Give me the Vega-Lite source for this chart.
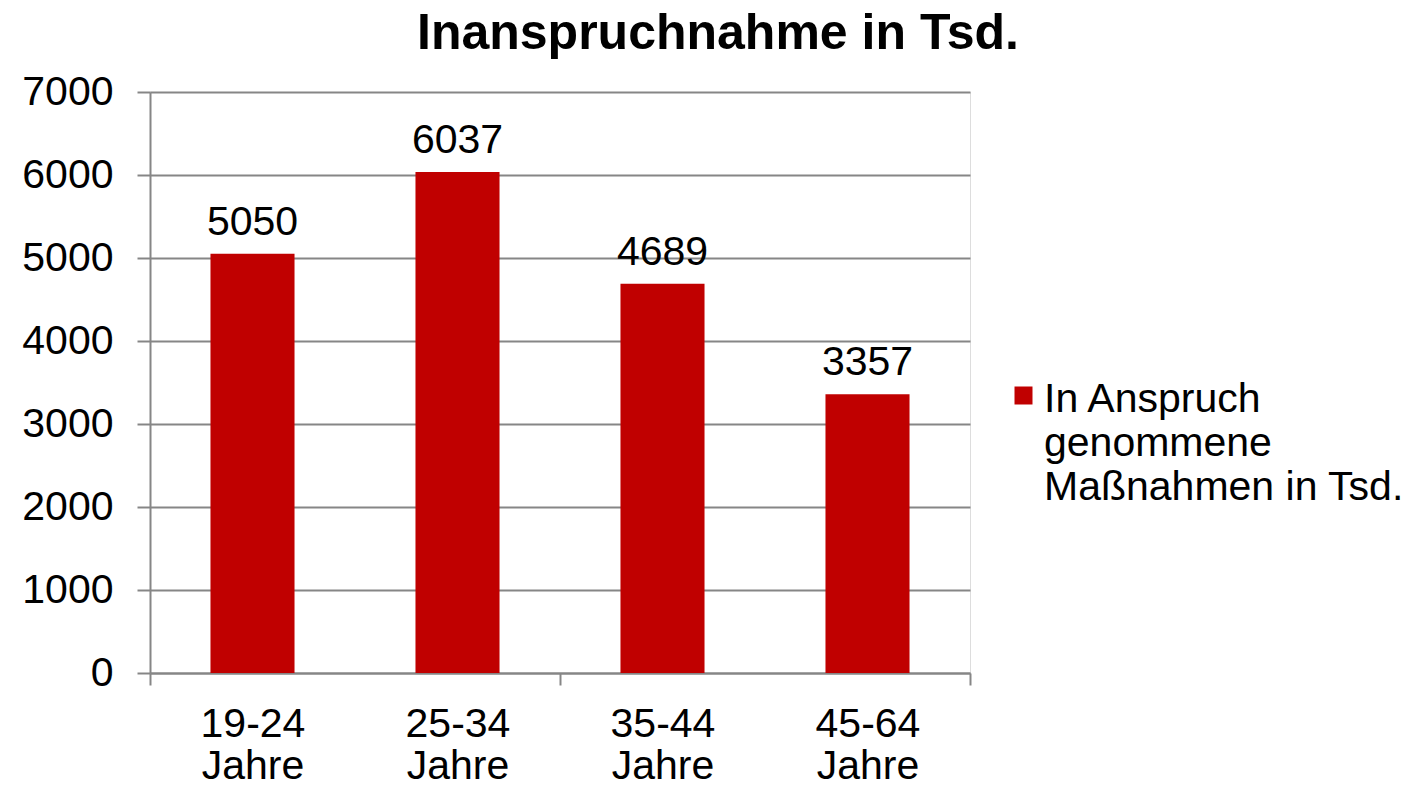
{
  "$schema": "https://vega.github.io/schema/vega-lite/v6.json",
  "width": 820,
  "height": 581,
  "autosize": "none",
  "padding": {"left": 150, "top": 92, "right": 455, "bottom": 115},
  "background": "white",
  "title": {
    "text": "Inanspruchnahme in Tsd.",
    "font": "Liberation Sans",
    "fontSize": 50,
    "fontWeight": "bold",
    "color": "black",
    "anchor": "middle",
    "frame": "group",
    "dx": 158,
    "offset": 12
  },
  "data": {
    "values": [
      {"gruppe": "19-24 Jahre", "wert": 5050, "serie": "In Anspruch genommene Maßnahmen in Tsd."},
      {"gruppe": "25-34 Jahre", "wert": 6037, "serie": "In Anspruch genommene Maßnahmen in Tsd."},
      {"gruppe": "35-44 Jahre", "wert": 4689, "serie": "In Anspruch genommene Maßnahmen in Tsd."},
      {"gruppe": "45-64 Jahre", "wert": 3357, "serie": "In Anspruch genommene Maßnahmen in Tsd."}
    ]
  },
  "encoding": {
    "x": {
      "field": "gruppe",
      "type": "nominal",
      "sort": null,
      "scale": {"paddingInner": 0, "paddingOuter": 0},
      "axis": {
        "title": null,
        "grid": false,
        "labelAngle": 0,
        "labelExpr": "split(datum.label, ' ')",
        "labelFont": "Liberation Sans",
        "labelFontSize": 41,
        "labelColor": "black",
        "labelLineHeight": 42,
        "labelBaseline": "top",
        "labelPadding": 19,
        "domainColor": "#868686",
        "domainWidth": 2,
        "tickColor": "#868686",
        "tickWidth": 2,
        "tickSize": 12,
        "tickBand": "extent",
        "tickOpacity": {"condition": {"test": "datum.value == '19-24 Jahre' || datum.value == '35-44 Jahre'", "value": 0}, "value": 1}
      }
    },
    "y": {
      "field": "wert",
      "type": "quantitative",
      "scale": {"domain": [0, 7000], "nice": false},
      "axis": {
        "title": null,
        "values": [0, 1000, 2000, 3000, 4000, 5000, 6000, 7000],
        "format": "d",
        "grid": true,
        "gridColor": "#868686",
        "gridWidth": 2,
        "domainColor": "#868686",
        "domainWidth": 2,
        "tickColor": "#868686",
        "tickWidth": 2,
        "tickSize": 13,
        "labelFont": "Liberation Sans",
        "labelFontSize": 41,
        "labelColor": "black",
        "labelPadding": 24
      }
    }
  },
  "layer": [
    {
      "mark": {"type": "bar", "width": {"band": 0.41}},
      "encoding": {
        "color": {
          "field": "serie",
          "type": "nominal",
          "scale": {"range": ["#C00000"]},
          "legend": {
            "title": null,
            "orient": "none",
            "legendX": 853,
            "legendY": 283,
            "symbolType": "square",
            "symbolSize": 324,
            "symbolStrokeWidth": 0,
            "symbolOpacity": 1,
            "labelFont": "Liberation Sans",
            "labelFontSize": 41,
            "labelColor": "black",
            "labelLimit": 600,
            "labelOffset": 0,
            "labelBaseline": "alphabetic",
            "labelExpr": "['In Anspruch', 'genommene', 'Maßnahmen in Tsd.']",
            "encode": {"labels": {"update": {"dy": {"value": 16}, "lineHeight": {"value": 44}}}}
          }
        }
      }
    },
    {
      "mark": {"type": "text", "dy": -19, "baseline": "alphabetic", "font": "Liberation Sans", "fontSize": 41, "color": "black"},
      "encoding": {"text": {"field": "wert", "type": "quantitative", "format": "d"}}
    }
  ]
}
